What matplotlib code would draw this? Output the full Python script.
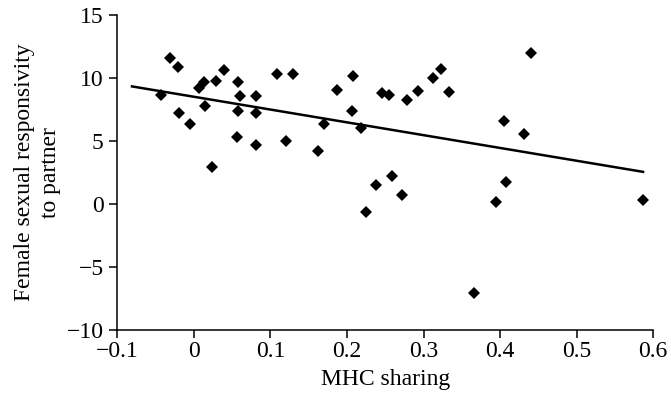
import matplotlib
matplotlib.use("Agg")
import matplotlib.pyplot as plt
import numpy as np

# MHC sharing vs. female sexual responsivity (one diamond per couple)
mhc_sharing = [
    -0.031, -0.0205, -0.0435, -0.019, -0.005, 0.0396, 0.013, 0.007, 0.029,
    0.015, 0.057, 0.0605, 0.081, 0.057, 0.081, 0.056, 0.081, 0.024,
    0.108, 0.130, 0.208, 0.187, 0.246, 0.255, 0.206, 0.1695, 0.218,
    0.120, 0.1617, 0.259, 0.279, 0.293, 0.312, 0.323, 0.333, 0.405,
    0.431, 0.441, 0.408, 0.395, 0.366, 0.2715, 0.238, 0.225, 0.5865,
]
responsivity = [
    11.56, 10.87, 8.65, 7.2, 6.37, 10.61, 9.71, 9.23, 9.76,
    7.78, 9.71, 8.6, 8.55, 7.38, 7.2, 5.29, 4.71, 2.96,
    10.32, 10.34, 10.18, 9.07, 8.78, 8.62, 7.36, 6.33, 6.03,
    5.03, 4.2, 2.2, 8.23, 8.97, 9.97, 10.69, 8.89, 6.61,
    5.53, 12.0, 1.72, 0.18, -7.1, 0.71, 1.53, -0.63, 0.32,
]

# Linear trend line
trend_slope = -10.15
trend_intercept = 8.51
trend_x = [-0.081, 0.587]

x_ticks = [-0.1, 0, 0.1, 0.2, 0.3, 0.4, 0.5, 0.6]
x_tick_labels = ["\u22120.1", "0", "0.1", "0.2", "0.3", "0.4", "0.5", "0.6"]
y_ticks = [-10, -5, 0, 5, 10, 15]
y_tick_labels = ["\u221210", "\u22125", "0", "5", "10", "15"]

plt.rcParams["font.family"] = ["Liberation Serif", "DejaVu Serif"]

fig = plt.figure(figsize=(6.71, 3.99), dpi=100)
ax = fig.add_axes([0.1751, 0.1729, 0.9732 - 0.1751, 0.9624 - 0.1729])

ax.plot(mhc_sharing, responsivity, linestyle="none", marker="D",
        markersize=6.4, markeredgewidth=0, color="black", zorder=3)

tx = np.array(trend_x)
ax.plot(tx, trend_intercept + trend_slope * tx, color="black", linewidth=1.8,
        zorder=2)

ax.set_xlim(-0.1, 0.6)
ax.set_ylim(-10, 15)
ax.set_xticks(x_ticks)
ax.set_xticklabels(x_tick_labels)
ax.set_yticks(y_ticks)
ax.set_yticklabels(y_tick_labels)

for side in ("top", "right"):
    ax.spines[side].set_visible(False)
for side in ("left", "bottom"):
    ax.spines[side].set_linewidth(1.1)

ax.tick_params(direction="out", length=6, width=1.1, labelsize=17)
ax.tick_params(axis="y", pad=4)
ax.tick_params(axis="x", pad=2)

ax.set_xlabel("MHC sharing", fontsize=17)
ax.set_ylabel("Female sexual responsivity\nto partner", fontsize=17,
              linespacing=1.3)
ax.xaxis.set_label_coords(0.5, -0.125)
ax.yaxis.set_label_coords(-0.105, 0.5)

fig.savefig("out.png", dpi=100, facecolor="white")
